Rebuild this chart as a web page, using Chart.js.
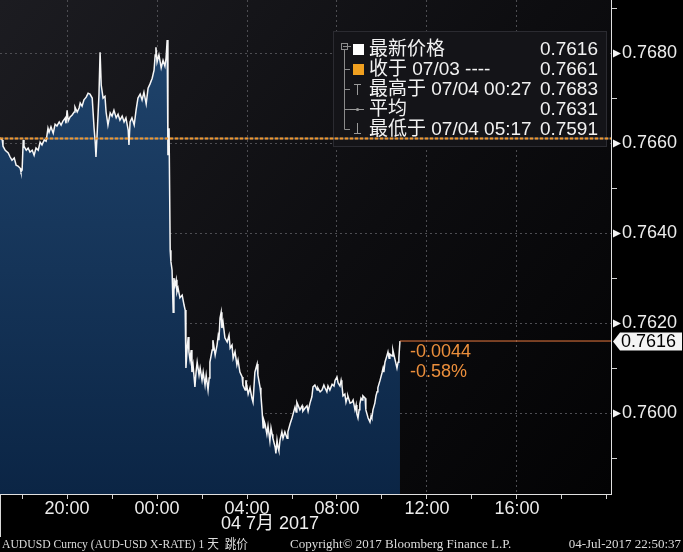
<!DOCTYPE html>
<html><head><meta charset="utf-8">
<script src="https://cdn.jsdelivr.net/npm/chart.js@4/dist/chart.umd.min.js"></script>
<style>html,body{margin:0;padding:0;background:#000;overflow:hidden}canvas{display:block}</style>
</head><body>
<canvas id="c" width="683" height="552"></canvas>
<script>
// minutes relative to 00:00, 04 Jul 2017 (negative = 03 Jul)
const times = [
-419,-413,-411,-405,-397,-392,-387,-381,-376,-371,-365,-363,-360,-357,-355,-349,-344,-339,-333,-328,-323,-317,-312,-307,-301,-296,-291,-288,-283,-277,-272,-267,-261,-256,-251,-245,-243,-240,-237,-232,-227,-221,-219,-213,-208,-205,-200,-195,-189,-184,-179,
-173,-168,-165,-163,-160,-155,-152,-149,-144,-139,-136,-131,-125,-120,-115,-109,-104,-99,-93,-88,-83,-77,-75,-72,-67,-61,-56,-51,-45,-40,-35,-29,-24,-19,-13,-8,-5,-3,0,5,11,16,21,24,27,29,32,
35,37,40,43,45,48,51,53,56,61,67,72,75,77,80,83,85,88,91,93,96,101,104,107,112,115,120,123,128,131,136,139,141,147,149,155,160,163,165,168,171,173,176,181,187,192,195,200,203,208,213,216,221,
227,229,235,237,243,248,253,256,261,264,267,269,275,277,280,283,285,288,293,296,301,304,307,309,315,317,320,323,325,328,333,336,341,347,349,355,360,363,368,371,373,376,381,387,389,395,400,403,408,413,416,421,
427,429,435,440,445,448,453,456,461,467,472,475,480,483,488,491,493,496,501,504,507,509,515,520,523,528,531,533,536,539,541,544,547,549,555,557,560,563,568,571,573,576,581,584,587,589,595,600,603,605,608,613,616,619,621,627,629,632,635,640,643,645,648
];
const closes = [
0.76611,0.76607,0.76593,0.76584,0.76578,0.76569,0.76562,0.76567,0.76551,0.76549,0.76544,0.76536,0.76540,0.76607,0.76593,0.76584,0.76589,0.76580,0.76584,0.76573,0.76589,0.76584,0.76602,0.76596,0.76607,0.76604,0.76633,0.76624,0.76636,0.76622,0.76642,0.76638,0.76647,0.76640,0.76649,0.76656,0.76644,0.76673,0.76649,0.76658,0.76662,0.76669,0.76680,0.76669,0.76678,0.76689,0.76682,0.76696,0.76702,0.76711,0.76709,
0.76700,0.76633,0.76602,0.76569,0.76618,0.76707,0.76802,0.76729,0.76700,0.76704,0.76669,0.76640,0.76667,0.76660,0.76673,0.76656,0.76664,0.76651,0.76660,0.76647,0.76656,0.76629,0.76596,0.76647,0.76656,0.76640,0.76673,0.76700,0.76709,0.76696,0.76713,0.76687,0.76722,0.76731,0.76744,0.76762,0.76796,0.76813,0.76780,0.76796,0.76767,0.76784,0.76771,0.76789,0.76829,0.76573,0.76633,
0.76362,0.76336,0.76318,0.76224,0.76300,0.76284,0.76296,0.76269,0.76278,0.76256,0.76262,0.76240,0.76229,0.76100,0.76140,0.76169,0.76136,0.76118,0.76140,0.76091,0.76107,0.76058,0.76091,0.76113,0.76084,0.76100,0.76073,0.76091,0.76062,0.76084,0.76051,0.76078,0.76113,0.76140,0.76162,0.76129,0.76151,0.76171,0.76162,0.76211,0.76224,0.76189,0.76202,0.76167,0.76158,0.76173,0.76144,0.76151,0.76122,0.76136,0.76107,0.76118,0.76091,
0.76080,0.76062,0.76051,0.76073,0.76042,0.76056,0.76033,0.76024,0.76091,0.76100,0.76109,0.76084,0.76056,0.76040,0.76007,0.75967,0.75984,0.75976,0.75953,0.75971,0.75938,0.75967,0.75953,0.75944,0.75924,0.75910,0.75940,0.75922,0.75916,0.75940,0.75958,0.75944,0.75958,0.75944,0.75958,0.75976,0.75989,0.75998,0.76013,0.76002,0.76024,0.76018,0.76007,0.76016,0.76004,0.76011,0.76016,0.76004,0.76022,0.76036,0.76058,0.76062,
0.76051,0.76056,0.76047,0.76051,0.76062,0.76056,0.76047,0.76060,0.76051,0.76064,0.76060,0.76073,0.76080,0.76067,0.76060,0.76073,0.76064,0.76038,0.76042,0.76024,0.76033,0.76038,0.76022,0.76024,0.76029,0.76007,0.76018,0.75998,0.75989,0.76007,0.76020,0.76033,0.76029,0.76038,0.76033,0.76007,0.75998,0.75989,0.75980,0.75993,0.75989,0.76007,0.76022,0.76038,0.76047,0.76056,0.76073,0.76089,0.76100,0.76091,0.76113,0.76127,0.76136,0.76122,0.76131,0.76127,0.76140,0.76129,0.76118,0.76100,0.76113,0.76122,0.76160
];
const prevClose = 0.7661;
const lastPrice = 0.7616;
const xTickValues = [-240, 0, 240, 480, 720, 960];
const xTickLabels = ['20:00', '00:00', '04:00', '08:00', '12:00', '16:00'];
const yTickLabels = ['0.7600', '0.7620', '0.7640', '0.7660', '0.7680'];
const dateLabel = '04 7月 2017';
const legendLabels = ['最新价格', '收于 07/03 ----', '最高于 07/04 00:27', '平均', '最低于 07/04 05:17'];
const legendValues = ['0.7616', '0.7661', '0.7683', '0.7631', '0.7591'];
const changeTexts = ['-0.0044', '-0.58%'];
const footerTexts = ['AUDUSD Curncy (AUD-USD X-RATE) 1 天  跳价', 'Copyright\u00A9 2017 Bloomberg Finance L.P.', '04-Jul-2017 22:50:37'];

const X_MIN = -419, X_MAX = 1211, Y_MIN = 0.75820, Y_MAX = 0.76918;
const SANS = '"Liberation Sans", "Noto Sans CJK SC", sans-serif';

function isYMajor(v) { return yTickLabels.includes(Number(v).toFixed(4)); }

function drawLegend(ctx) {
  ctx.save();
  ctx.fillStyle = '#141418';
  ctx.fillRect(333, 31, 274, 116);
  ctx.strokeStyle = '#2b2b31';
  ctx.lineWidth = 1;
  ctx.strokeRect(333.5, 31.5, 273, 115);
  const rows = [49, 69, 89, 109, 129];
  ctx.strokeStyle = '#8c8c8c';
  ctx.strokeRect(341.5, 43.5, 6, 6);
  ctx.beginPath();
  ctx.moveTo(343, 46.5); ctx.lineTo(347, 46.5);
  ctx.moveTo(344.5, 50); ctx.lineTo(344.5, rows[4] + 0.5);
  for (let i = 1; i < 5; i++) { ctx.moveTo(344.5, rows[i] + 0.5); ctx.lineTo(350, rows[i] + 0.5); }
  ctx.moveTo(347.5, 46.5); ctx.lineTo(351, 46.5);
  ctx.stroke();
  ctx.fillStyle = '#ffffff'; ctx.fillRect(353, 44, 11, 11);
  ctx.fillStyle = '#f0a020'; ctx.fillRect(353, 64, 11, 11);
  ctx.strokeStyle = '#9a9a9a';
  ctx.beginPath();
  ctx.moveTo(354, 84.5); ctx.lineTo(361, 84.5); ctx.moveTo(357.5, 84.5); ctx.lineTo(357.5, 95);
  ctx.moveTo(350, 109.5); ctx.lineTo(364, 109.5);
  ctx.moveTo(357.5, 123); ctx.lineTo(357.5, 134); ctx.moveTo(354, 133.5); ctx.lineTo(361, 133.5);
  ctx.stroke();
  ctx.beginPath(); ctx.arc(357.5, 109.5, 1.6, 0, Math.PI * 2); ctx.fillStyle = '#9a9a9a'; ctx.fill();
  ctx.font = '19px ' + SANS;
  ctx.fillStyle = '#f2f2f2';
  ctx.textBaseline = 'middle';
  legendLabels.forEach((t, i) => { ctx.textAlign = 'left'; ctx.fillText(t, 369, rows[i] + 1); });
  legendValues.forEach((t, i) => { ctx.textAlign = 'right'; ctx.fillText(t, 598, rows[i] + 1); });
  ctx.restore();
}

const decor = {
  id: 'decor',
  beforeDraw(chart) {
    const { ctx, chartArea: a } = chart;
    ctx.save();
    ctx.fillStyle = '#000';
    ctx.fillRect(0, 0, chart.width, chart.height);
    const g = ctx.createLinearGradient(a.left, a.top, a.right, a.bottom);
    g.addColorStop(0, '#1c1c21');
    g.addColorStop(0.55, '#0d0d10');
    g.addColorStop(1, '#030304');
    ctx.fillStyle = g;
    ctx.fillRect(a.left, a.top, a.right - a.left, a.bottom - a.top);
    ctx.restore();
  },
  beforeDatasetsDraw(chart) {
    drawLegend(chart.ctx);
  },
  afterDraw(chart) {
    const { ctx, chartArea: a } = chart;
    const xs = chart.scales.x, ys = chart.scales.y;
    ctx.save();
    ctx.fillStyle = '#f2f2f2';
    yTickLabels.forEach(l => {
      const y = Math.round(ys.getPixelForValue(parseFloat(l)));
      ctx.beginPath();
      ctx.moveTo(a.right + 2, y - 3.5);
      ctx.lineTo(a.right + 10, y + 0.5);
      ctx.lineTo(a.right + 2, y + 4.5);
      ctx.closePath();
      ctx.fill();
    });
    const yl = Math.round(ys.getPixelForValue(lastPrice)) + 0.5;
    ctx.fillStyle = '#f4f4f4';
    ctx.beginPath();
    ctx.moveTo(a.right + 2, yl);
    ctx.lineTo(a.right + 9, yl - 9);
    ctx.lineTo(chart.width - 1, yl - 9);
    ctx.lineTo(chart.width - 1, yl + 9);
    ctx.lineTo(a.right + 9, yl + 9);
    ctx.closePath();
    ctx.fill();
    ctx.fillStyle = '#000';
    ctx.font = '18px ' + SANS;
    ctx.textBaseline = 'middle';
    ctx.textAlign = 'left';
    ctx.fillText(lastPrice.toFixed(4), a.right + 10, yl + 1);
    const xe = xs.getPixelForValue(times[times.length - 1]);
    ctx.fillStyle = '#ec8f3c';
    ctx.fillText(changeTexts[0], xe + 10, yl + 11);
    ctx.fillText(changeTexts[1], xe + 10, yl + 31);
    ctx.fillStyle = '#f0f0f0';
    ctx.textAlign = 'center';
    ctx.fillText(dateLabel, 270, 524);
    ctx.strokeStyle = '#d8d8d8';
    ctx.lineWidth = 1;
    ctx.beginPath(); ctx.moveTo(0.5, a.bottom); ctx.lineTo(0.5, 537); ctx.stroke();
    ctx.font = '13px "Liberation Serif", "Noto Sans CJK SC", serif';
    ctx.fillStyle = '#dcdcdc';
    ctx.textAlign = 'left';
    ctx.fillText(footerTexts[0], 2, 545, 246);
    ctx.fillText(footerTexts[1], 290, 545, 227);
    ctx.textAlign = 'right';
    ctx.fillText(footerTexts[2], 681, 545, 119);
    ctx.restore();
  }
};

new Chart(document.getElementById('c'), {
  type: 'line',
  data: {
    datasets: [
      { label: 'prevCloseBase', data: [{ x: X_MIN, y: prevClose }, { x: X_MAX, y: prevClose }],
        borderColor: 'rgba(235,215,190,0.35)', borderWidth: 2, pointRadius: 0, fill: false, order: 1 },
      { label: 'prevClose', data: [{ x: X_MIN, y: prevClose }, { x: X_MAX, y: prevClose }],
        borderColor: '#ee962e', borderWidth: 2, borderDash: [3, 2], pointRadius: 0, fill: false, order: 0 },
      { label: 'last', data: [{ x: times[times.length - 1], y: lastPrice }, { x: X_MAX, y: lastPrice }],
        borderColor: '#e8783e', borderWidth: 1, pointRadius: 0, fill: false, order: 0 },
      { label: 'AUDUSD', data: times.map((t, i) => ({ x: t, y: closes[i] })),
        borderColor: '#f6f6f6', borderWidth: 1.5, pointRadius: 0, tension: 0, order: 2,
        fill: 'start',
        backgroundColor: (c) => {
          const a = c.chart.chartArea;
          if (!a) return '#0f2c4c';
          const g = c.chart.ctx.createLinearGradient(0, a.top, 0, a.bottom);
          g.addColorStop(0, '#21466f');
          g.addColorStop(1, '#0b2545');
          return g;
        } }
    ]
  },
  options: {
    responsive: false, animation: false, devicePixelRatio: 1,
    layout: { padding: 0 },
    plugins: { legend: { display: false }, tooltip: { enabled: false } },
    scales: {
      x: {
        type: 'linear', position: 'bottom', min: X_MIN, max: X_MAX,
        afterFit(s) { s.height = 58; s.paddingLeft = 0; s.paddingRight = 0; },
        ticks: { stepSize: 120, includeBounds: false, autoSkip: false, maxRotation: 0, padding: 1,
          color: '#ececec', font: { family: SANS, size: 18, lineHeight: 1 },
          callback: (v) => { const i = xTickValues.indexOf(v); return i >= 0 ? xTickLabels[i] : ''; } },
        grid: { lineWidth: 1, tickLength: 5,
          color: (c) => (c.tick && xTickValues.includes(c.tick.value)) ? '#4d4d52' : 'rgba(0,0,0,0)',
          tickColor: '#cfcfcf' },
        border: { color: '#e0e0e0', width: 1, dash: [2, 3] }
      },
      y: {
        type: 'linear', position: 'right', min: Y_MIN, max: Y_MAX,
        afterFit(s) { s.width = 72; s.paddingTop = 0; s.paddingBottom = 0; },
        ticks: { stepSize: 0.001, includeBounds: false, autoSkip: false, padding: 5,
          color: '#ececec', font: { family: SANS, size: 18 },
          callback: (v) => isYMajor(v) ? Number(v).toFixed(4) : '' },
        grid: { lineWidth: 1, tickLength: 6,
          color: (c) => (c.tick && isYMajor(c.tick.value)) ? '#4d4d52' : 'rgba(0,0,0,0)',
          tickColor: (c) => (c.tick && isYMajor(c.tick.value)) ? 'rgba(0,0,0,0)' : '#cfcfcf' },
        border: { color: '#e0e0e0', width: 1, dash: [2, 3] }
      }
    }
  },
  plugins: [decor]
});
</script>
</body></html>
